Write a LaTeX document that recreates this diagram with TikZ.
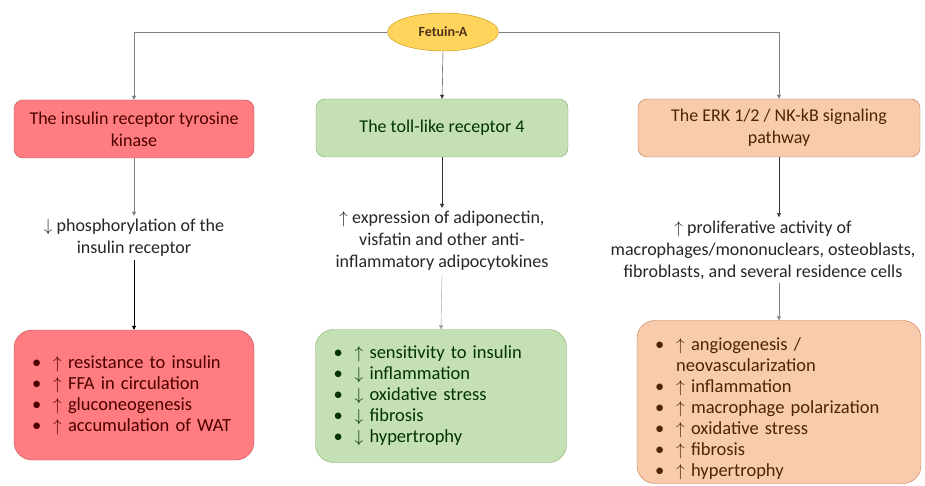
\documentclass[tikz,border=0pt]{standalone}
\usepackage{fontspec}
\setmainfont{Carlito}
\usetikzlibrary{shapes.geometric,arrows.meta}
\definecolor{fetuinfill}{RGB}{255,212,92}
\definecolor{fetuinline}{RGB}{191,144,0}
\definecolor{redfill}{RGB}{255,124,128}
\definecolor{redline}{RGB}{192,80,77}
\definecolor{greenfill}{RGB}{197,224,180}
\definecolor{greenline}{RGB}{130,170,110}
\definecolor{orangefill}{RGB}{248,203,173}
\definecolor{orangeline}{RGB}{197,120,80}
\newcommand{\up}{$\uparrow$}
\newcommand{\dn}{$\downarrow$}
\newcommand{\itm}{\textbullet\hspace{12pt}}

\begin{document}
\begin{tikzpicture}[x=1pt, y=-1pt,
  every node/.style={font=\fontsize{18}{22}\selectfont, text=black!85},
  conn/.style={gray, thin, -{Triangle[width=4pt,length=4pt]}},
  head/.style={draw, thin, rounded corners=9pt, align=center, minimum height=58pt},
  res/.style={draw, thin, rounded corners=18pt, align=left, inner xsep=18pt,
              font=\fontsize{18.5}{21}\selectfont}]
\useasboundingbox (0,0) rectangle (925,486);

%Fetuin-A
\node[ellipse, draw=fetuinline, fill=fetuinfill, minimum width=111pt, minimum height=38pt,
      inner sep=1pt, text=brown!40!black, font=\fontsize{14}{16}\selectfont\bfseries] (fetuin) at (443,32) {Fetuin-A};

%first row of boxes
\node[head, draw=redline, fill=redfill, minimum width=240pt, text=red!30!black] (insr) at (134,129)
      {The insulin receptor tyrosine\\kinase};
\node[head, draw=greenline, fill=greenfill, minimum width=252pt, text=green!20!black] (tlr) at (442,128)
      {The toll-like receptor 4};
\node[head, draw=orangeline, fill=orangefill, minimum width=282pt, text=orange!30!black] (erk) at (779,128)
      {The ERK 1/2 / NK-kB signaling\\pathway};

%middle texts
\node[align=center] (mid1) at (134,238) {\dn\ phosphorylation of the\\insulin receptor};
\node[align=center] (mid2) at (442,241) {\up\ expression of adiponectin,\\visfatin and other anti-\\inflammatory adipocytokines};
\node[align=center, inner xsep=0pt] (mid3) at (763,250) {\up\ proliferative activity of\\macrophages/mononuclears, osteoblasts,\\fibroblasts, and several residence cells};

%bottom boxes
\node[res, draw=redline, fill=redfill, minimum width=240pt, minimum height=130pt,
      text width=204pt, text=red!30!black] (res1) at (134,395)
      {\itm\up\ resistance to insulin\\\itm\up\ FFA in circulation\\\itm\up\ gluconeogenesis\\\itm\up\ accumulation of WAT};
\node[res, draw=greenline, fill=greenfill, minimum width=251pt, minimum height=133pt,
      text width=215pt, text=green!20!black] (res2) at (441,396)
      {\itm\up\ sensitivity to insulin\\\itm\dn\ inflammation\\\itm\dn\ oxidative stress\\\itm\dn\ fibrosis\\\itm\dn\ hypertrophy};
\node[res, draw=orangeline, fill=orangefill, minimum width=284pt, minimum height=158pt,
      text width=248pt, text=orange!30!black] (res3) at (779,402)
      {\rule{0pt}{27pt}\itm\up\ angiogenesis /\\\phantom{\textbullet}\hspace{12pt}neovascularization\\\itm\up\ inflammation\\\itm\up\ macrophage polarization\\\itm\up\ oxidative stress\\\itm\up\ fibrosis\\\itm\up\ hypertrophy};

%connectors from Fetuin-A
\draw[conn] (fetuin.west) -| (insr.north);
\draw[conn, black!80] (fetuin.south) -- (tlr.north);
\draw[conn] (fetuin.east) -| (erk.north);

%connectors down the columns
\draw[conn] (insr.south) -- (insr.south |- mid1.north);
\draw[conn, black!80] (tlr.south) -- (mid2.north);
\draw[conn, black!80] (erk.south) -- (erk.south |- mid3.north);
\draw[conn, black] (insr.south |- mid1.south) -- (res1.north);
\draw[conn, black!40] (mid2.south) -- (res2.north);
\draw[conn] (erk.south |- mid3.south) -- (res3.north);

\end{tikzpicture}
\end{document}
